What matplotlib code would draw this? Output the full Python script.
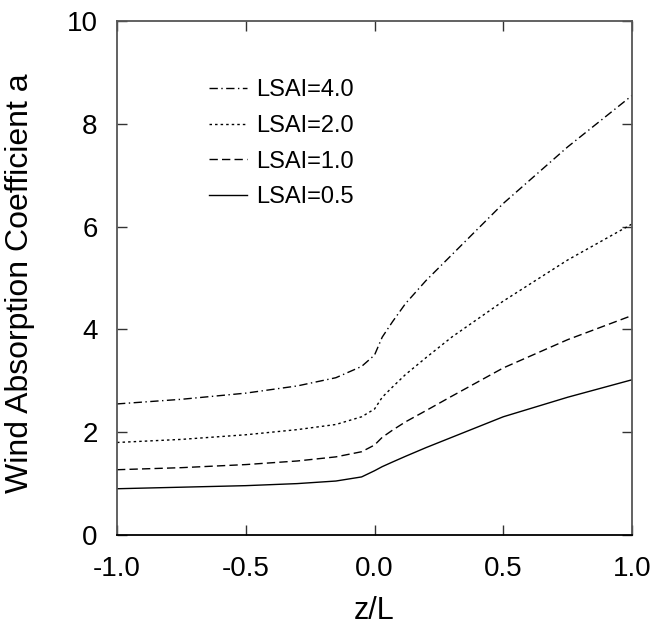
import numpy as np
import matplotlib.pyplot as plt

plt.rcParams['font.family'] = ['Liberation Sans', 'DejaVu Sans']

# z/L sample positions and coefficient values
zl = [-1.0, -0.75, -0.5, -0.3, -0.15, -0.05, 0.0, 0.03, 0.07, 0.12, 0.2, 0.3, 0.5, 0.75, 1.0]
a_40 = [2.55, 2.64, 2.76, 2.9, 3.06, 3.28, 3.5, 3.85, 4.15, 4.5, 4.95, 5.45, 6.45, 7.55, 8.55]
a_20 = [1.8, 1.86, 1.95, 2.05, 2.15, 2.3, 2.45, 2.68, 2.88, 3.12, 3.45, 3.85, 4.55, 5.35, 6.05]
a_10 = [1.27, 1.31, 1.37, 1.44, 1.52, 1.62, 1.75, 1.9, 2.04, 2.2, 2.42, 2.7, 3.25, 3.8, 4.27]
a_05 = [0.9, 0.93, 0.96, 1.0, 1.05, 1.13, 1.25, 1.33, 1.42, 1.53, 1.7, 1.9, 2.3, 2.68, 3.02]

labels = ["LSAI=4.0", "LSAI=2.0", "LSAI=1.0", "LSAI=0.5"]

fig = plt.figure(figsize=(6.53, 6.31), dpi=100)
ax = fig.add_axes([117/653, 1 - 535/631, 515/653, 514/631])

ax.plot(zl, a_40, color='black', lw=1.0, dashes=(6, 2.5, 1, 2.5), label=labels[0])
ax.plot(zl, a_20, color='black', lw=1.0, dashes=(1.8, 2.2), label=labels[1])
ax.plot(zl, a_10, color='black', lw=1.0, dashes=(6, 3), label=labels[2])
ax.plot(zl, a_05, color='black', lw=1.0, label=labels[3])

ax.set_xlim(-1.0, 1.0)
ax.set_ylim(0, 10)
ax.set_xticks([-1.0, -0.5, 0.0, 0.5, 1.0])
ax.set_xticklabels(["-1.0", "-0.5", "0.0", "0.5", "1.0"])
ax.set_yticks([0, 2, 4, 6, 8, 10])
ax.tick_params(direction='in', length=7, width=1, labelsize=20,
               top=True, right=True, colors='#333333', labelcolor='black')
ax.tick_params(axis='x', pad=15)
ax.tick_params(axis='y', pad=14)
for name, s in ax.spines.items():
    s.set_linewidth(1.3)
    s.set_color('black' if name == 'bottom' else '#555555')

ax.set_xlabel("z/L", fontsize=22)
ax.set_ylabel("Wind Absorption Coefficient a", fontsize=23)
ax.xaxis.set_label_coords(0.5, -0.118)
ax.yaxis.set_label_coords(-0.16, 0.49)

ax.legend(loc='upper left', bbox_to_anchor=(0.161, 0.905), frameon=False,
          fontsize=17, handlelength=1.6, handletextpad=0.4, labelspacing=0.58,
          borderaxespad=0)

fig.savefig("out.png", dpi=100)
